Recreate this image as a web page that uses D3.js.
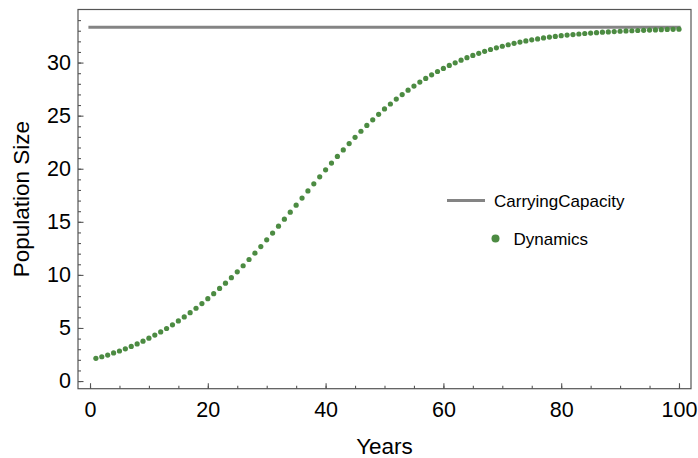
<!DOCTYPE html>
<html>
<head>
<meta charset="utf-8">
<script src="https://cdn.jsdelivr.net/npm/d3@7"></script>
<style>
    body { margin: 0; background: #fff; }
    svg { display: block; font-family: "Liberation Sans", Arial, sans-serif; }
</style>
</head>
<body>
<div id="chart"></div>
<script>
// Years 1..100
const years = d3.range(1, 101);

// Population, one value per year
const population = [
    2.14, 2.29, 2.45, 2.65, 2.83, 3.04, 3.26, 3.50, 3.76, 4.04,
    4.33, 4.63, 4.95, 5.30, 5.66, 6.04, 6.44, 6.86, 7.30, 7.76,
    8.23, 8.73, 9.22, 9.74, 10.29, 10.86, 11.45, 12.05, 12.67, 13.30,
    13.94, 14.59, 15.25, 15.91, 16.57, 17.24, 17.91, 18.58, 19.24, 19.90,
    20.53, 21.16, 21.77, 22.37, 22.96, 23.53, 24.08, 24.61, 25.13, 25.63,
    26.10, 26.56, 26.99, 27.40, 27.79, 28.16, 28.51, 28.85, 29.16, 29.45,
    29.73, 29.98, 30.23, 30.46, 30.67, 30.87, 31.06, 31.23, 31.39, 31.54,
    31.68, 31.81, 31.93, 32.04, 32.14, 32.23, 32.32, 32.40, 32.46, 32.53,
    32.59, 32.64, 32.69, 32.74, 32.78, 32.82, 32.86, 32.89, 32.92, 32.95,
    32.98, 33.00, 33.02, 33.04, 33.06, 33.08, 33.10, 33.12, 33.13, 33.15
];

const carryingCapacity = 33.33;
const capacitySpan = [0, 100];

const xTicks = [0, 20, 40, 60, 80, 100];
const xMinorTicks = d3.range(0, 101, 5);
const yTicks = [0, 5, 10, 15, 20, 25, 30];
const yMinorTicks = d3.range(0, 35, 1);

const legendLabels = ["CarryingCapacity", "Dynamics"];

const width = 698;
const height = 458;
const frame = { left: 78, right: 691, top: 9.5, bottom: 388.7 };

const green = "#4c8b42";
const gray = "#848484";
const frameColor = "#555";

const svg = d3.select("#chart").append("svg")
    .attr("width", width)
    .attr("height", height);

const x = d3.scaleLinear()
    .domain([-2.04, 102.04])
    .range([frame.left, frame.right]);

const y = d3.scaleLinear()
    .domain([-0.72, 35])
    .range([frame.bottom, frame.top]);

// frame
svg.append("rect")
    .attr("x", frame.left)
    .attr("y", frame.top)
    .attr("width", frame.right - frame.left)
    .attr("height", frame.bottom - frame.top)
    .attr("fill", "none")
    .attr("stroke", frameColor)
    .attr("stroke-width", 1.2);

// minor ticks first, then major ticks with labels
svg.append("g")
    .attr("transform", `translate(0,${frame.bottom})`)
    .call(d3.axisBottom(x).tickValues(xMinorTicks).tickSize(-3).tickFormat(""))
    .call(g => g.select(".domain").remove());

svg.append("g")
    .attr("class", "x-axis")
    .attr("transform", `translate(0,${frame.bottom})`)
    .call(d3.axisBottom(x).tickValues(xTicks).tickSize(-5.5).tickPadding(13).tickFormat(d3.format("d")))
    .call(g => g.select(".domain").remove());

svg.append("g")
    .attr("transform", `translate(${frame.left},0)`)
    .call(d3.axisLeft(y).tickValues(yMinorTicks).tickSize(-3).tickFormat(""))
    .call(g => g.select(".domain").remove());

svg.append("g")
    .attr("class", "y-axis")
    .attr("transform", `translate(${frame.left},0)`)
    .call(d3.axisLeft(y).tickValues(yTicks).tickSize(-5.5).tickPadding(7).tickFormat(d3.format("d")))
    .call(g => g.select(".domain").remove());

svg.selectAll(".tick line").attr("stroke", frameColor).attr("stroke-width", 1.1);
svg.selectAll(".tick text")
    .attr("fill", "#000")
    .style("font-family", "'Liberation Sans', Arial, sans-serif")
    .style("font-size", "21.5px");

// axis titles
svg.append("text")
    .attr("x", (frame.left + frame.right) / 2)
    .attr("y", 454)
    .attr("text-anchor", "middle")
    .style("font-size", "22.5px")
    .text("Years");

svg.append("text")
    .attr("transform", `translate(28.5,${(frame.top + frame.bottom) / 2}) rotate(-90)`)
    .attr("text-anchor", "middle")
    .style("font-size", "22.5px")
    .text("Population Size");

// carrying capacity line
svg.append("line")
    .attr("x1", x(capacitySpan[0]))
    .attr("x2", x(capacitySpan[1]))
    .attr("y1", y(carryingCapacity))
    .attr("y2", y(carryingCapacity))
    .attr("stroke", gray)
    .attr("stroke-width", 3.2)
    .attr("stroke-linecap", "square");

// dynamics points
const data = years.map((yr, i) => ({ year: yr, value: population[i] }));

svg.selectAll(".dot")
    .data(data)
    .enter()
    .append("circle")
    .attr("class", "dot")
    .attr("cx", d => x(d.year))
    .attr("cy", d => y(d.value))
    .attr("r", 2.6)
    .attr("fill", green);

// legend
const legend = svg.append("g");

legend.append("line")
    .attr("x1", 447)
    .attr("x2", 485)
    .attr("y1", 200.5)
    .attr("y2", 200.5)
    .attr("stroke", gray)
    .attr("stroke-width", 3.2);

legend.append("text")
    .attr("x", 494)
    .attr("y", 207)
    .style("font-size", "17px")
    .text(legendLabels[0]);

legend.append("circle")
    .attr("cx", 495.5)
    .attr("cy", 238.5)
    .attr("r", 4)
    .attr("fill", green);

legend.append("text")
    .attr("x", 513.5)
    .attr("y", 245)
    .style("font-size", "17px")
    .text(legendLabels[1]);
</script>
</body>
</html>
